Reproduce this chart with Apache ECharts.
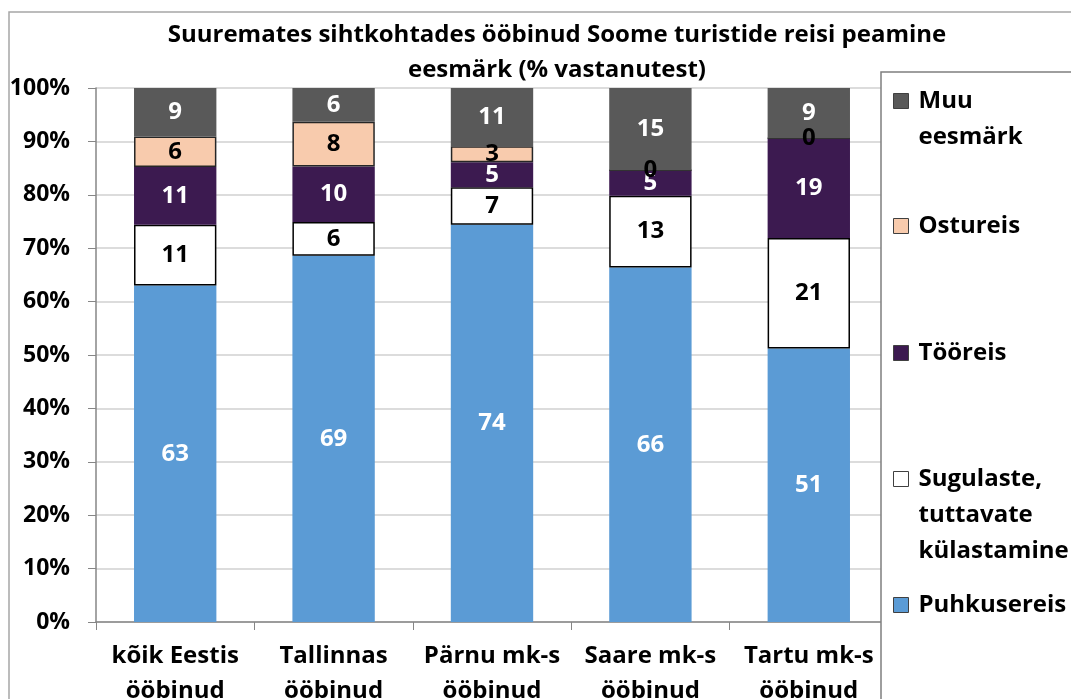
<!DOCTYPE html>
<html>
<head>
<meta charset="utf-8">
<script src="https://cdn.jsdelivr.net/npm/echarts@6/dist/echarts.min.js"></script>
<style>
  html, body { margin: 0; padding: 0; background: #fff; }
  #chart { width: 1071px; height: 699px; }
</style>
</head>
<body>
<div id="chart"></div>
<script>
// andmed (% vastanutest)
const categories = ['kõik Eestis\nööbinud', 'Tallinnas\nööbinud', 'Pärnu mk-s\nööbinud', 'Saare mk-s\nööbinud', 'Tartu mk-s\nööbinud'];
const puhkusereis = [63.0, 68.6, 74.4, 66.4, 51.2];
const sugulaste = [11.4, 6.3, 7.0, 13.4, 20.7];
const tooreis = [10.8, 10.4, 4.7, 4.8, 18.7];
const ostureis = [5.7, 8.4, 3.0, 0, 0];
const muu = [9.1, 6.3, 10.9, 15.4, 9.4];
const yTicks = [0, 10, 20, 30, 40, 50, 60, 70, 80, 90, 100];

const FONT = '"Open Sans", sans-serif';

const chart = echarts.init(document.getElementById('chart'));

// seeria kirjeldused: nimi, andmed, värv, sildi värv, ääris
const seriesDefs = [
  { name: 'Puhkusereis', data: puhkusereis, color: '#5B9BD5', label: '#fff', border: null },
  { name: 'Sugulaste, tuttavate külastamine', data: sugulaste, color: '#FFFFFF', label: '#000', border: '#000' },
  { name: 'Tööreis', data: tooreis, color: '#3C1A50', label: '#fff', border: null },
  { name: 'Ostureis', data: ostureis, color: '#F8CBAD', label: '#000', border: '#262626' },
  { name: 'Muu eesmärk', data: muu, color: '#595959', label: '#fff', border: null }
];

const series = seriesDefs.map(s => ({
  name: s.name,
  type: 'bar',
  stack: 'kokku',
  barWidth: '52%',
  data: s.data,
  itemStyle: {
    color: s.color,
    borderColor: s.border || s.color,
    borderWidth: s.border ? 1.5 : 0
  },
  label: {
    show: true,
    position: 'inside',
    color: s.label,
    fontFamily: FONT,
    fontWeight: 'bold',
    fontSize: 24,
    formatter: p => Math.round(p.value)
  },
  emphasis: { disabled: true }
}));

// legendi kirjed: ikooni keskkoha y ja tekst
const legendItems = [
  { name: 'Muu eesmärk', text: 'Muu\neesmärk', y: 101 },
  { name: 'Ostureis', text: 'Ostureis', y: 226 },
  { name: 'Tööreis', text: 'Tööreis', y: 353 },
  { name: 'Sugulaste, tuttavate külastamine', text: 'Sugulaste,\ntuttavate\nkülastamine', y: 479 },
  { name: 'Puhkusereis', text: 'Puhkusereis', y: 605 }
];
const LH = 36;
const legends = legendItems.map(it => {
  const n = it.text.split('\n').length;
  // tühjad read üles, et esimene rida oleks ikooni kõrgusel
  const txt = '\n'.repeat(n - 1) + it.text;
  const total = (2 * n - 1) * LH;
  return {
    data: [{ name: it.name, icon: 'rect' }],
    left: 893,
    top: it.y - total / 2,
    padding: 0,
    itemWidth: 15,
    itemHeight: 15,
    z: 20,
    selectedMode: false,
    formatter: () => txt,
    textStyle: {
      fontFamily: FONT,
      fontWeight: 'bold',
      fontSize: 24,
      color: '#000',
      lineHeight: LH,
      padding: [0, 0, 0, 5]
    },
    itemStyle: { borderColor: '#404040', borderWidth: 1 }
  };
});

chart.setOption({
  animation: false,
  title: {
    text: 'Suuremates sihtkohtades ööbinud Soome turistide reisi peamine\neesmärk (% vastanutest)',
    left: 552,
    top: 13,
    textAlign: 'center',
    textStyle: {
      fontFamily: FONT,
      fontWeight: 'bold',
      fontSize: 24,
      lineHeight: 35,
      color: '#000'
    }
  },
  graphic: [
    {
      type: 'rect',
      z: 0,
      shape: { x: 9, y: 12, width: 1200, height: 800 },
      style: { fill: 'none', stroke: '#A6A6A6', lineWidth: 1.5 }
    },
    {
      type: 'rect',
      z: 10,
      shape: { x: 881, y: 72, width: 300, height: 700 },
      style: { fill: '#fff', stroke: '#7F7F7F', lineWidth: 1.5 }
    }
  ],
  legend: legends,
  grid: { left: 96, right: 183, top: 88, bottom: 77, containLabel: false, outerBoundsMode: 'none' },
  xAxis: {
    type: 'category',
    data: categories,
    axisLine: { lineStyle: { color: '#868686', width: 1.5 } },
    axisTick: { show: true, length: 8, lineStyle: { color: '#868686' } },
    axisLabel: {
      interval: 0,
      color: '#000',
      fontFamily: FONT,
      fontWeight: 'bold',
      fontSize: 24,
      lineHeight: 35,
      margin: 17
    }
  },
  yAxis: {
    type: 'value',
    min: 0,
    max: 100,
    interval: 10,
    axisLine: { show: true, lineStyle: { color: '#868686', width: 1.5 } },
    axisTick: { show: true, length: 8, lineStyle: { color: '#868686' } },
    splitLine: { lineStyle: { color: '#D0D0D0', width: 1.5 } },
    axisLabel: {
      color: '#000',
      fontFamily: FONT,
      fontWeight: 'bold',
      fontSize: 23,
      margin: 26,
      formatter: v => (yTicks.includes(v) ? v + '%' : '')
    }
  },
  series: series
});
</script>
</body>
</html>
